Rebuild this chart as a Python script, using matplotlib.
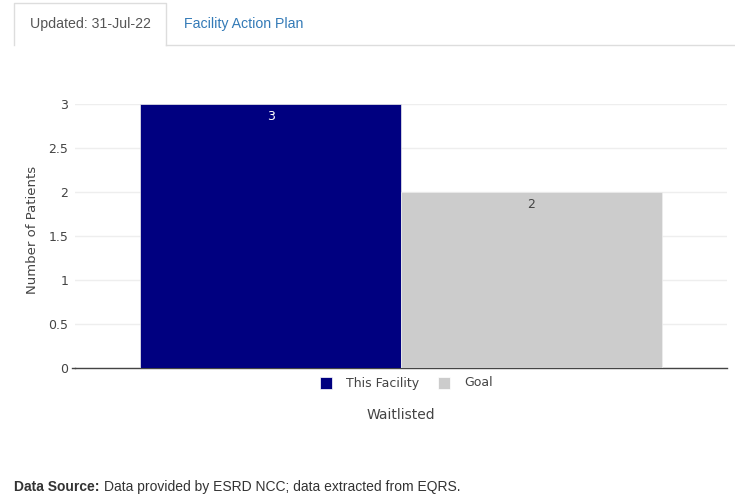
import matplotlib
matplotlib.use("Agg")
import matplotlib.pyplot as plt
from matplotlib.patches import Rectangle
from matplotlib.lines import Line2D

categories = ["Waitlisted"]
series_names = ["This Facility", "Goal"]
series_values = [[3], [2]]
series_colors = ["#000080", "#cccccc"]
label_colors = ["#ffffff", "#444444"]
y_ticks = [0, 0.5, 1, 1.5, 2, 2.5, 3]
y_tick_labels = ["0", "0.5", "1", "1.5", "2", "2.5", "3"]

W, H = 735, 495
fig = plt.figure(figsize=(W / 100, H / 100), dpi=100)
fig.patch.set_facecolor("white")

# axes placement in pixels
x0, x1 = 75, 727
ytop, ybot = 104, 368
ax = fig.add_axes([x0 / W, 1 - ybot / H, (x1 - x0) / W, (ybot - ytop) / H])
ax.set_facecolor("white")

bar_w = 0.4
for i, (name, vals, col, lc) in enumerate(zip(series_names, series_values, series_colors, label_colors)):
    offs = -0.2 + i * bar_w
    xs = [k + offs for k in range(len(categories))]
    bars = ax.bar(xs, vals, width=bar_w, color=col, edgecolor="#eeeeee", linewidth=0.5, zorder=3)
    for b, v in zip(bars, vals):
        ax.text(b.get_x() + b.get_width() / 2, v - 0.07, str(v), ha="center", va="top",
                color=lc, fontsize=9, family="DejaVu Sans", zorder=4)

ax.set_xlim(-0.5, len(categories) - 0.5)
ax.set_ylim(0, 3)
ax.set_yticks(y_ticks)
ax.set_yticklabels(y_tick_labels, fontsize=9, color="#444444", family="DejaVu Sans")
ax.tick_params(axis="y", length=0, pad=5)
ax.set_xticks([])
ax.grid(axis="y", color="#eeeeee", linewidth=1, zorder=0)
for s in ["top", "right", "left"]:
    ax.spines[s].set_visible(False)
ax.spines["bottom"].set_color("#444444")
ax.spines["bottom"].set_linewidth(1)
ax.set_ylabel("Number of Patients", fontsize=9.5, color="#444444", family="DejaVu Sans")
ax.yaxis.set_label_coords((39 - x0) / (x1 - x0), (ybot - 230) / (ybot - ytop))

# zero line tick extending left
fig.add_artist(Line2D([72 / W, x0 / W], [1 - ybot / H, 1 - ybot / H], color="#444444", lw=1))

# legend
leg_y = 1 - 383 / H
sq = 12
legend_x = [320, 438]
for name, col, lx in zip(series_names, series_colors, legend_x):
    fig.add_artist(Rectangle((lx / W, leg_y - (sq / 2) / H), sq / W, sq / H, facecolor=col,
                             edgecolor="white", lw=0.5, transform=fig.transFigure))
    fig.text((lx + 26) / W, leg_y, name, fontsize=9, color="#444444", va="center", ha="left",
             family="DejaVu Sans")

fig.text(401 / W, 1 - 415 / H, categories[0], fontsize=10, color="#444444", ha="center", va="center",
         family="DejaVu Sans")

# tabs
tab_col = "#dddddd"
tab_bottom = 1 - 45 / H
fig.add_artist(Line2D([166 / W, 735 / W], [tab_bottom, tab_bottom], color=tab_col, lw=1))
fig.add_artist(Line2D([14 / W, 14 / W, 166 / W, 166 / W],
                      [tab_bottom, 1 - 3 / H, 1 - 3 / H, tab_bottom], color=tab_col, lw=1))
fig.text(90 / W, 1 - 24 / H, "Updated: 31-Jul-22", fontsize=10.2, color="#555555", ha="center",
         va="center", family="Liberation Sans")
fig.text(244 / W, 1 - 24 / H, "Facility Action Plan", fontsize=10.2, color="#337ab7", ha="center",
         va="center", family="Liberation Sans")

# data source
t = fig.text(14 / W, 1 - 487 / H, "Data Source:", fontsize=10, color="#333333", weight="bold",
             va="center", ha="left", family="Liberation Sans")
fig.canvas.draw()
bb = t.get_window_extent()
fig.text((bb.x1 + 5) / W, 1 - 487 / H, "Data provided by ESRD NCC; data extracted from EQRS.",
         fontsize=10, color="#333333", va="center", ha="left", family="Liberation Sans")

fig.savefig("out.png", dpi=100, facecolor="white")
